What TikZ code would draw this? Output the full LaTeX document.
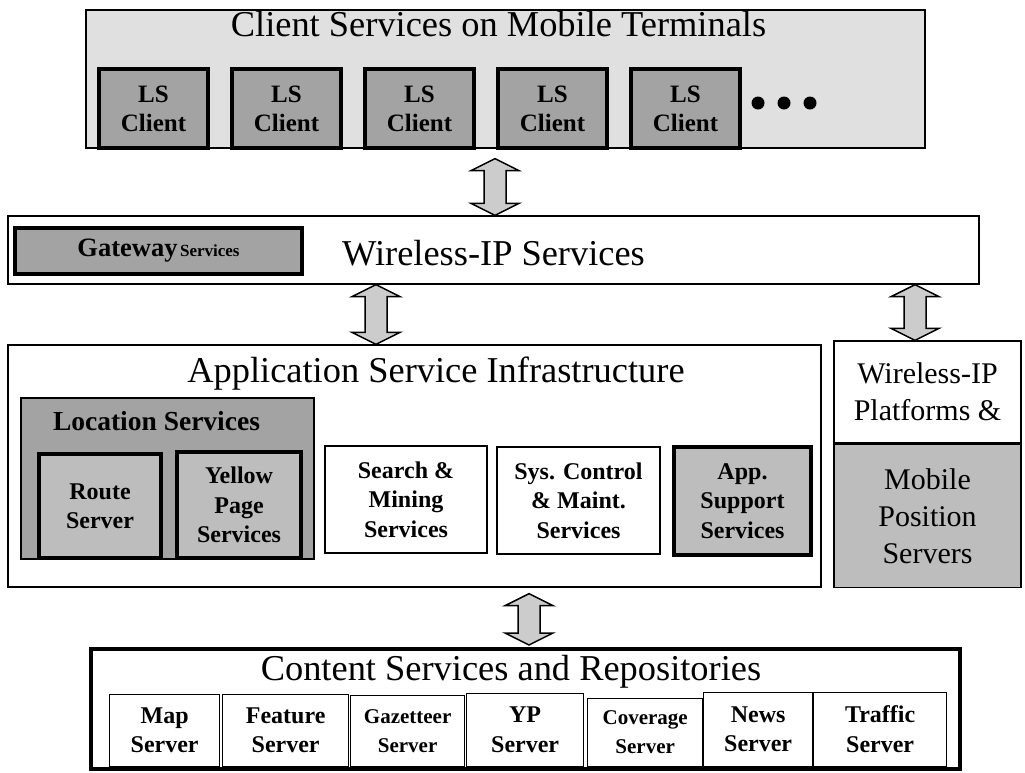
\documentclass[tikz,border=0pt]{standalone}
\usepackage{fontspec}
\setmainfont{Liberation Serif}
\usepackage{tikz}
\usetikzlibrary{calc,positioning}
\definecolor{stippleLight}{gray}{0.88}
\definecolor{stippleDark}{gray}{0.64}
\definecolor{stippleMid}{gray}{0.74}
\definecolor{arrowGray}{gray}{0.80}

% hollow two-headed block arrow, from an upper point to a lower point
\newcommand{\fatarrow}[2]{%
  \draw[fatarrow] ($#1$) -- ($#1+(24,12)$) -- ($#1+(11,12)$)
    -- ($#2+(11,-12)$) -- ($#2+(24,-12)$) -- ($#2$)
    -- ($#2+(-24,-12)$) -- ($#2+(-11,-12)$)
    -- ($#1+(-11,12)$) -- ($#1+(-24,12)$) -- cycle;}

\begin{document}
\begin{tikzpicture}[
    x=1pt, y=-1pt,
    node distance=20pt,
    layer/.style={draw, line width=1.3pt, inner sep=0pt},
    title/.style={anchor=base, inner sep=0pt,
      font=\fontsize{36.4}{40}\selectfont},
    svcbox/.style={
      draw,
      line width=1.3pt,
      align=center,
      inner sep=0pt,
      font=\bfseries\fontsize{24}{29.5}\selectfont
    },
    heavybox/.style={svcbox, line width=4pt},
    serverbox/.style={svcbox, fill=white, anchor=south west},
    fatarrow/.style={draw, line width=1.5pt, fill=arrowGray, line join=miter}
  ]
    \useasboundingbox (0,0) rectangle (1025,772);

    % client tier
    \node[layer, fill=stippleLight, minimum width=839pt, minimum height=138pt]
      (client-layer) at (505.5,79) {};
    \node[title] (client-title) at (498.5,36)
      {Client Services on Mobile Terminals};
    \node[heavybox, fill=stippleDark, minimum width=109pt, minimum height=79pt,
      font=\bfseries\fontsize{25}{29}\selectfont] (ls-client-1) at (153.5,108.5)
      {LS\\Client};
    \node[heavybox, fill=stippleDark, minimum width=109pt, minimum height=79pt,
      font=\bfseries\fontsize{25}{29}\selectfont, right=of ls-client-1]
      (ls-client-2) {LS\\Client};
    \node[heavybox, fill=stippleDark, minimum width=109pt, minimum height=79pt,
      font=\bfseries\fontsize{25}{29}\selectfont, right=of ls-client-2]
      (ls-client-3) {LS\\Client};
    \node[heavybox, fill=stippleDark, minimum width=109pt, minimum height=79pt,
      font=\bfseries\fontsize{25}{29}\selectfont, right=of ls-client-3]
      (ls-client-4) {LS\\Client};
    \node[heavybox, fill=stippleDark, minimum width=109pt, minimum height=79pt,
      font=\bfseries\fontsize{25}{29}\selectfont, right=of ls-client-4]
      (ls-client-5) {LS\\Client};
    \foreach \dx in {758,784,810}
      \fill (\dx,103) circle (6.5pt);

    % wireless-IP tier
    \node[layer, fill=white, minimum width=971pt, minimum height=68pt]
      (wireless-layer) at (493.5,250) {};
    \node[heavybox, fill=stippleDark, minimum width=287pt, minimum height=46pt,
      font=\bfseries] (gateway) at (158.5,251)
      {{\fontsize{26.5}{30}\selectfont Gateway} {\fontsize{17}{20}\selectfont Services}};
    \node[title] (wireless-title) at (493.5,265) {Wireless-IP Services};

    % application tier
    \node[layer, fill=white, minimum width=813pt, minimum height=242pt]
      (app-layer) at (414.5,466) {};
    \node[title] (app-title) at (436,382) {Application Service Infrastructure};
    \node[layer, fill=stippleDark, minimum width=293pt, minimum height=161pt]
      (location) at (167.5,478.5) {};
    \node[anchor=base, inner sep=0pt, font=\bfseries\fontsize{27.5}{30}\selectfont]
      (location-title) at (156.5,430) {Location Services};
    \node[heavybox, fill=stippleMid, minimum width=122pt, minimum height=104pt]
      (route-server) at (100,506) {Route\\Server};
    \node[heavybox, fill=stippleMid, minimum width=124pt, minimum height=106pt]
      (yp-services) at (239,505) {Yellow\\Page\\Services};
    \node[svcbox, fill=white, minimum width=162pt, minimum height=107pt]
      (search-mining) at (406,499.5) {Search \&\\Mining\\Services};
    \node[svcbox, fill=white, minimum width=163pt, minimum height=107pt]
      (sys-control) at (578.5,500.5) {Sys. Control\\\& Maint.\\Services};
    \node[heavybox, fill=stippleMid, minimum width=137pt, minimum height=108pt]
      (app-support) at (742.5,501) {App.\\Support\\Services};

    % platforms
    \node[layer, fill=white, minimum width=187pt, minimum height=102pt,
      align=center, font=\fontsize{30}{37}\selectfont]
      (platform-top) at (927.5,392) {Wireless-IP\\Platforms \&};
    \node[layer, fill=stippleMid, minimum width=187pt, minimum height=143pt,
      align=center, font=\fontsize{30}{37}\selectfont, below=0pt of platform-top]
      (position-servers) {Mobile\\Position\\Servers};

    % content tier
    \node[layer, line width=4pt, fill=white, minimum width=869pt,
      minimum height=120pt] (content-layer) at (525.5,709) {};
    \node[title] (content-title) at (511,680) {Content Services and Repositories};
    \node[serverbox, minimum width=110pt, minimum height=72pt]
      (map-server) at (109,767) {Map\\Server};
    \node[serverbox, minimum width=126pt, minimum height=72pt]
      (feature-server) at (222,767) {Feature\\Server};
    \node[serverbox, minimum width=114pt, minimum height=71pt,
      font=\bfseries\fontsize{21}{29}\selectfont]
      (gazetteer-server) at (350,767) {Gazetteer\\Server};
    \node[serverbox, minimum width=117pt, minimum height=73pt]
      (yp-server) at (466,767) {YP\\Server};
    \node[serverbox, minimum width=115pt, minimum height=68pt,
      font=\bfseries\fontsize{21}{29}\selectfont]
      (coverage-server) at (587,767) {Coverage\\Server};
    \node[serverbox, minimum width=109pt, minimum height=74pt]
      (news-server) at (703,767) {News\\Server};
    \node[serverbox, minimum width=133pt, minimum height=74pt]
      (traffic-server) at (813,767) {Traffic\\Server};

    % block arrows between the tiers
    \coordinate (arrow-x1) at (495,0);
    \coordinate (arrow-x2) at (376,0);
    \coordinate (arrow-x3) at (915,0);
    \coordinate (arrow-x4) at (529,0);
    \fatarrow{(client-layer.south -| arrow-x1)+(0,10)}{(wireless-layer.north -| arrow-x1)}
    \fatarrow{(wireless-layer.south -| arrow-x2)}{(app-layer.north -| arrow-x2)}
    \fatarrow{(wireless-layer.south -| arrow-x3)}{(platform-top.north -| arrow-x3)}
    \fatarrow{(app-layer.south -| arrow-x4)+(0,6)}{(content-layer.north -| arrow-x4)+(0,-2)}
  \end{tikzpicture}
\end{document}
